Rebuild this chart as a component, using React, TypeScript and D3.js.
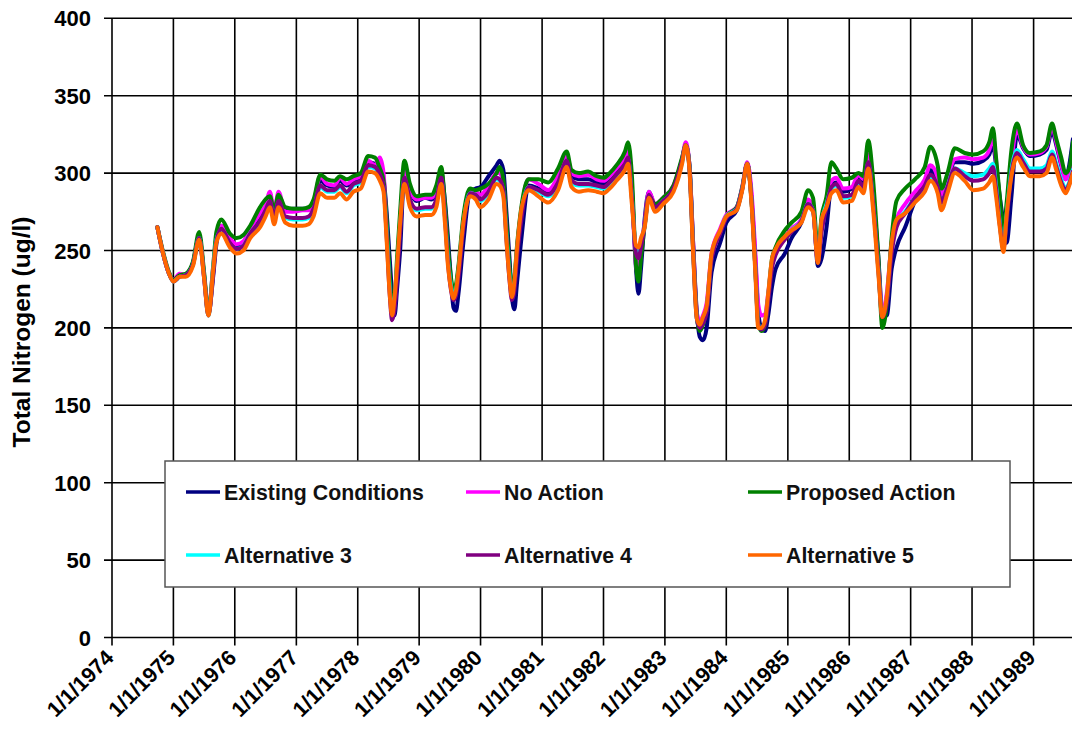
import React from "react";
import * as d3 from "d3";

// decimal-year sample dates
const dates: number[] = [
  1974.74, 1974.82, 1974.92, 1975.0, 1975.1, 1975.2, 1975.32, 1975.42, 1975.5, 1975.57,
  1975.65, 1975.7, 1975.78, 1975.92, 1976.03, 1976.14, 1976.25, 1976.41, 1976.5, 1976.57,
  1976.64, 1976.71, 1976.82, 1976.95, 1977.1, 1977.2, 1977.28, 1977.39, 1977.5, 1977.62,
  1977.71, 1977.82, 1977.93, 1978.05, 1978.17, 1978.28, 1978.36, 1978.42, 1978.47, 1978.52,
  1978.56, 1978.6, 1978.64, 1978.69, 1978.76, 1978.85, 1978.96, 1979.1, 1979.2, 1979.28,
  1979.36, 1979.42, 1979.47, 1979.52, 1979.56, 1979.6, 1979.64, 1979.72, 1979.83, 1979.92,
  1980.0, 1980.13, 1980.26, 1980.31, 1980.37, 1980.42, 1980.47, 1980.51, 1980.55, 1980.59,
  1980.67, 1980.78, 1980.94, 1981.1, 1981.26, 1981.4, 1981.48, 1981.6, 1981.75, 1981.89,
  1982.0, 1982.1, 1982.21, 1982.35, 1982.4, 1982.46, 1982.53, 1982.57, 1982.61, 1982.67,
  1982.74, 1982.84, 1982.97, 1983.14, 1983.28, 1983.34, 1983.4, 1983.46, 1983.52, 1983.57,
  1983.62, 1983.68, 1983.76, 1983.9, 1984.0, 1984.17, 1984.26, 1984.34, 1984.41, 1984.47,
  1984.52, 1984.57, 1984.63, 1984.68, 1984.74, 1984.8, 1984.95, 1985.06, 1985.22, 1985.33,
  1985.41, 1985.49, 1985.55, 1985.63, 1985.71, 1985.79, 1985.9, 1986.04, 1986.15, 1986.23,
  1986.31, 1986.39, 1986.47, 1986.54, 1986.61, 1986.69, 1986.77, 1986.91, 1987.07, 1987.23,
  1987.32, 1987.44, 1987.5, 1987.6, 1987.72, 1987.88, 1988.02, 1988.18, 1988.28, 1988.34,
  1988.39, 1988.45, 1988.51, 1988.56, 1988.64, 1988.73, 1988.83, 1988.94, 1989.1, 1989.21,
  1989.3, 1989.37, 1989.45, 1989.52, 1989.58, 1989.64,
];

const existingConditions: number[] = [
  265, 250, 236, 231, 234, 234, 242, 259, 234, 209,
  234, 254, 266, 257, 253, 255, 263, 272, 278, 285,
  274, 284, 276, 277, 277, 277, 281, 295, 292, 291,
  295, 292, 295, 297, 307, 306, 301, 296, 275, 245,
  222, 208, 225, 250, 300, 288, 282, 284, 283, 287,
  300, 282, 258, 230, 213, 211, 222, 255, 288, 290,
  291, 298, 305, 308, 302, 275, 245, 220, 212, 228,
  260, 292, 290, 287, 296, 310, 298, 296, 296, 294,
  293, 296, 301, 309, 313, 292, 238, 222, 238, 270,
  288, 279, 283, 291, 309, 318, 305, 255, 210, 194,
  192, 200, 236, 255, 268, 276, 290, 306, 284, 245,
  210, 200, 198, 208, 226, 238, 248, 258, 268, 282,
  278, 240, 245, 265, 292, 294, 288, 290, 297, 294,
  310, 285, 248, 210, 208, 238, 252, 265, 282, 294,
  302, 294, 285, 295, 307, 307, 306, 308, 312, 318,
  305, 285, 268, 255, 285, 325, 316, 311, 312, 315,
  327, 318, 305, 296, 305, 322,
];

const noAction: number[] = [
  265, 250, 236, 231, 235, 234, 242, 259, 232, 210,
  240, 258, 266, 258, 254, 256, 264, 274, 279, 288,
  275, 288, 275, 275, 276, 276, 281, 298, 293, 292,
  297, 293, 296, 298, 308, 305, 310, 300, 265, 228,
  210, 215, 238, 268, 302, 289, 283, 284, 284, 289,
  301, 276, 248, 228, 221, 225, 238, 268, 289, 288,
  286, 292, 300, 300, 292, 262, 236, 222, 228, 250,
  278, 296, 293, 289, 298, 312, 300, 298, 299, 296,
  295, 298, 303, 310, 314, 288, 240, 234, 250, 268,
  288, 280, 284, 292, 309, 320, 305, 255, 210, 204,
  208, 216, 248, 264, 273, 278, 291, 307, 288, 250,
  215, 208, 209, 222, 242, 250, 259, 264, 270, 283,
  277, 243, 266, 282, 295, 297, 290, 291, 299, 296,
  312, 286, 242, 210, 222, 255, 270, 280, 288, 296,
  305, 297, 286, 297, 309, 310, 309, 310, 315, 324,
  308, 280, 258, 275, 308, 328, 317, 312, 313, 317,
  330, 320, 306, 296, 300, 315,
];

const proposedAction: number[] = [
  265, 251, 237, 231, 234, 235, 243, 262, 236, 210,
  241, 262, 270, 261, 258, 260, 266, 278, 283, 285,
  276, 286, 278, 277, 277, 278, 283, 299, 296, 295,
  298, 296, 298, 300, 311, 310, 303, 295, 270, 235,
  215, 218, 245, 275, 308, 293, 285, 286, 286, 292,
  304, 280, 252, 232, 224, 228, 240, 272, 290, 289,
  290, 293, 300, 304, 296, 268, 240, 225, 232, 252,
  280, 296, 296, 294, 303, 314, 302, 300, 301, 298,
  297, 300, 305, 314, 320, 300, 240, 230, 245, 266,
  285, 280, 284, 292, 310, 318, 305, 252, 208, 198,
  202, 212, 246, 262, 272, 278, 291, 306, 282, 240,
  203, 198, 202, 220, 244, 252, 263, 268, 275, 289,
  284, 250, 272, 285, 307, 303, 296, 297, 300, 298,
  321, 295, 248, 200, 215, 258, 282, 290, 296, 304,
  317, 305, 290, 300, 316, 313, 312, 314, 320, 329,
  310, 285, 262, 280, 315, 332, 318, 313, 314, 318,
  332, 322, 310, 300, 303, 320,
];

const alternative3: number[] = [
  265, 250, 236, 230, 233, 234, 241, 258, 233, 208,
  239, 257, 263, 254, 251, 253, 261, 268, 275, 281,
  270, 281, 271, 270, 270, 271, 276, 291, 288, 288,
  291, 287, 292, 294, 304, 303, 298, 291, 262, 226,
  210, 218, 238, 266, 296, 282, 276, 277, 277, 282,
  296, 272, 244, 227, 220, 224, 236, 267, 287, 286,
  282, 287, 296, 295, 288, 260, 234, 221, 228, 248,
  276, 291, 288, 285, 293, 307, 294, 292, 292, 291,
  290, 293, 298, 305, 309, 285, 250, 248, 255, 266,
  285, 277, 282, 289, 307, 318, 303, 250, 206, 201,
  205, 212, 246, 262, 272, 277, 290, 306, 282, 240,
  202, 200, 204, 220, 242, 250, 258, 263, 269, 280,
  276, 244, 268, 280, 290, 292, 284, 285, 294, 290,
  306, 280, 240, 208, 218, 252, 268, 275, 284, 291,
  298, 290, 280, 291, 303, 300, 298, 299, 303, 306,
  292, 268, 252, 272, 302, 315, 309, 303, 303, 305,
  314, 306, 296, 290, 294, 302,
];

const alternative4: number[] = [
  265, 250, 236, 230, 233, 234, 241, 258, 233, 208,
  236, 256, 264, 255, 251, 253, 261, 269, 276, 282,
  271, 282, 272, 271, 271, 272, 277, 292, 289, 289,
  292, 288, 293, 295, 305, 304, 299, 292, 260, 222,
  205, 212, 232, 262, 297, 283, 277, 278, 278, 283,
  297, 272, 242, 224, 218, 221, 232, 264, 287, 286,
  283, 288, 297, 296, 289, 258, 231, 218, 224, 244,
  272, 291, 289, 286, 294, 308, 295, 293, 293, 292,
  291, 294, 299, 306, 310, 285, 248, 245, 252, 266,
  286, 278, 282, 290, 308, 318, 303, 250, 206, 200,
  203, 210, 244, 261, 271, 277, 290, 306, 282, 240,
  202, 199, 202, 217, 238, 247, 257, 262, 269, 280,
  276, 243, 262, 278, 291, 293, 285, 286, 295, 291,
  307, 280, 240, 207, 216, 248, 265, 274, 284, 292,
  299, 291, 281, 291, 303, 298, 295, 296, 300, 304,
  290, 267, 251, 268, 300, 313, 307, 301, 301, 303,
  312, 304, 294, 289, 293, 301,
];

const alternative5: number[] = [
  265, 250, 236, 230, 233, 233, 240, 257, 232, 208,
  238, 255, 261, 252, 248, 250, 258, 265, 272, 278,
  267, 278, 268, 266, 266, 267, 272, 287, 284, 284,
  287, 283, 288, 290, 301, 300, 295, 288, 257, 222,
  208, 220, 240, 268, 293, 278, 272, 273, 273, 278,
  293, 268, 240, 225, 219, 224, 237, 268, 285, 283,
  278, 283, 293, 292, 285, 257, 232, 220, 230, 250,
  278, 289, 285, 281, 289, 304, 291, 288, 289, 288,
  287, 290, 295, 302, 306, 281, 253, 252, 258, 265,
  284, 275, 280, 288, 306, 318, 302, 248, 206, 202,
  207, 214, 248, 263, 272, 276, 289, 306, 280, 237,
  200, 200, 205, 222, 244, 251, 259, 263, 268, 278,
  275, 242, 270, 278, 287, 289, 281, 282, 291, 287,
  303, 276, 237, 207, 220, 255, 270, 274, 281, 288,
  295, 287, 276, 287, 300, 295, 289, 290, 294, 298,
  285, 265, 249, 272, 298, 310, 304, 298, 298, 300,
  310, 302, 292, 287, 292, 300,
];

const seriesNames: string[] = [
  "Existing Conditions",
  "No Action",
  "Proposed Action",
  "Alternative 3",
  "Alternative 4",
  "Alternative 5",
];
const seriesColors: string[] = ["#000080", "#ff00ff", "#008000", "#00ffff", "#800080", "#ff6600"];
const seriesValues: number[][] = [
  existingConditions,
  noAction,
  proposedAction,
  alternative3,
  alternative4,
  alternative5,
];

const yTicks: number[] = [0, 50, 100, 150, 200, 250, 300, 350, 400];
const xTickYears: number[] = [
  1974, 1975, 1976, 1977, 1978, 1979, 1980, 1981, 1982, 1983, 1984, 1985, 1986, 1987, 1988, 1989,
];

const W = 1072;
const H = 729;
const FONT = "'Liberation Sans', Arial, sans-serif";

function decToDate(d: number): Date {
  const y = Math.floor(d);
  const start = new Date(y, 0, 1).getTime();
  const end = new Date(y + 1, 0, 1).getTime();
  return new Date(start + (d - y) * (end - start));
}

export default function App() {
  const x = d3
    .scaleTime()
    .domain([new Date(1974, 0, 1), new Date(1990, 0, 1)])
    .range([112, 1095]);
  const y = d3.scaleLinear().domain([0, 400]).range([637.5, 18.3]);

  const line = d3
    .line<[Date, number]>()
    .x((d) => x(d[0]))
    .y((d) => y(d[1]))
    .curve(d3.curveMonotoneX);

  const plotLeft = x.range()[0];
  const plotRight = x.range()[1];
  const plotTop = y(400);
  const plotBottom = y(0);

  const legendCols = [186, 466, 748];
  const legendRows = [492, 555];

  return (
    <svg
      width={W}
      height={H}
      style={{ position: "absolute", left: 0, top: 0, background: "#fff" }}
      xmlns="http://www.w3.org/2000/svg"
    >
      <rect x={0} y={0} width={W} height={H} fill="#fff" />
      {/* horizontal gridlines */}
      {yTicks.map((t) => (
        <line
          key={"hy" + t}
          x1={plotLeft - 8}
          x2={plotRight}
          y1={y(t)}
          y2={y(t)}
          stroke="#000"
          strokeWidth={1.6}
        />
      ))}
      {/* vertical gridlines */}
      {xTickYears.map((yr) => {
        const xx = x(new Date(yr, 0, 1));
        return (
          <line
            key={"vx" + yr}
            x1={xx}
            x2={xx}
            y1={plotTop}
            y2={plotBottom + 8}
            stroke="#000"
            strokeWidth={1.6}
          />
        );
      })}
      {/* y tick labels */}
      {yTicks.map((t) => (
        <text
          key={"ty" + t}
          x={91}
          y={y(t) + 8}
          textAnchor="end"
          fontFamily={FONT}
          fontWeight="bold"
          fontSize={22}
          fill="#000"
        >
          {t}
        </text>
      ))}
      {/* x tick labels */}
      {xTickYears.map((yr) => {
        const xx = x(new Date(yr, 0, 1));
        return (
          <text
            key={"tx" + yr}
            transform={`translate(${xx + 3},${659}) rotate(-45)`}
            textAnchor="end"
            fontFamily={FONT}
            fontWeight="bold"
            fontSize={21.5}
            fill="#000"
          >
            {`1/1/${yr}`}
          </text>
        );
      })}
      {/* axis title */}
      <text
        transform={`translate(30,332) rotate(-90)`}
        textAnchor="middle"
        fontFamily={FONT}
        fontWeight="bold"
        fontSize={24.5}
        fill="#000"
      >
        Total Nitrogen (ug/l)
      </text>
      {/* series */}
      {seriesValues.map((vals, i) => {
        const pts: [Date, number][] = dates.map((d, j) => [decToDate(d), vals[j]]);
        return (
          <path
            key={"s" + i}
            d={line(pts) || ""}
            fill="none"
            stroke={seriesColors[i]}
            strokeWidth={4}
            strokeLinejoin="round"
            strokeLinecap="round"
          />
        );
      })}
      {/* legend */}
      <rect x={165} y={461} width={845} height={126} fill="#fff" stroke="#555" strokeWidth={1.5} />
      {seriesNames.map((name, i) => {
        const cx = legendCols[i % 3];
        const cy = legendRows[Math.floor(i / 3)];
        return (
          <g key={"lg" + i}>
            <line x1={cx} x2={cx + 34} y1={cy} y2={cy} stroke={seriesColors[i]} strokeWidth={3.5} />
            <text
              x={cx + 38}
              y={cy + 7.5}
              fontFamily={FONT}
              fontWeight="bold"
              fontSize={21.3}
              fill="#111"
            >
              {name}
            </text>
          </g>
        );
      })}
    </svg>
  );
}
